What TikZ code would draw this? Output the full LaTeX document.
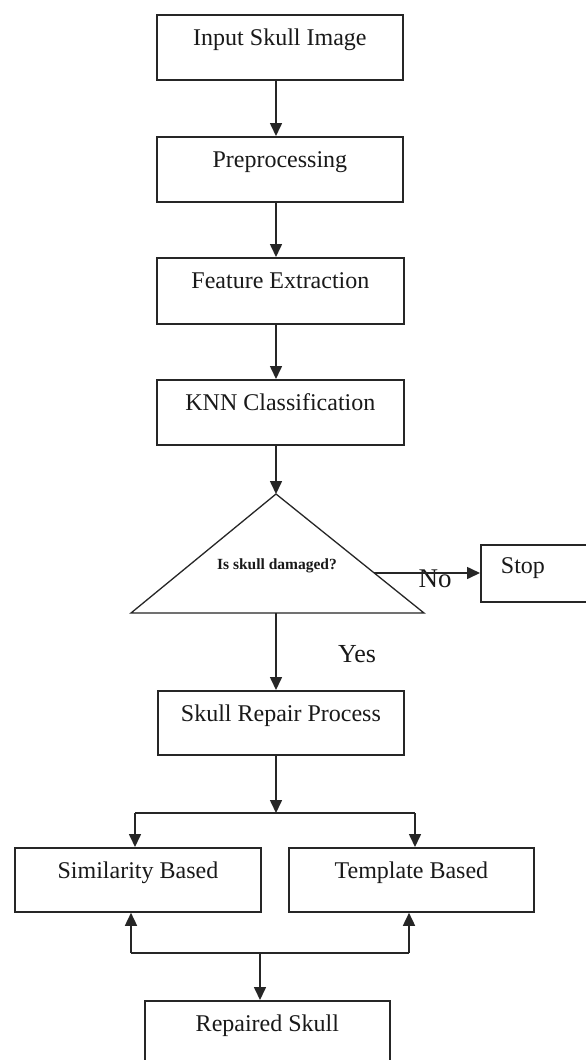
\documentclass[tikz,border=0pt]{standalone}
\usepackage{fontspec}
\setmainfont{Liberation Serif}
\usetikzlibrary{arrows.meta}

\tikzset{
  stepbox/.style={draw=black!85, line width=1.8pt, inner sep=0pt, anchor=north west,
    text height=31pt, text depth=#1, font=\fontsize{24}{28}\selectfont, text=black!90},
  stepbox/.default=34pt,
  arr/.style={draw=black!85, line width=1.6pt, -{Triangle[length=13pt,width=12pt]}},
  link/.style={draw=black!85, line width=1.6pt},
  lbl/.style={inner sep=0pt, font=\fontsize{26}{30}\selectfont, text=black!90},
}

\begin{document}
\begin{tikzpicture}[x=1pt, y=-1pt]
  \useasboundingbox (0,0) rectangle (586,1060);
  \fill[white] (0,0) rectangle (586,1060);

  % main column
  \coordinate (spine) at (276,0);
  \node[stepbox, minimum width=246pt] (in) at (156,14) {Input Skull Image};
  \node[stepbox, minimum width=246pt] (pre) at (156,136) {Preprocessing};
  \node[stepbox=35pt, minimum width=247pt] (feat) at (156,257) {Feature Extraction};
  \node[stepbox, minimum width=247pt] (knn) at (156,379) {KNN Classification};

  % decision triangle
  \coordinate (apex) at (276,494);
  \coordinate (bl) at (131,613);
  \coordinate (br) at (424,613);
  \coordinate (base) at (276,613);
  \coordinate (noS) at (374,573);
  \draw[link, line width=1.3pt, line join=miter] (apex) -- (br) -- (bl) -- cycle;
  \node[inner sep=0pt, font=\bfseries\fontsize{15.5}{18}\selectfont, text=black!90] (q) at (277,566) {Is skull damaged?};

  \node[stepbox=28pt, text height=29pt, minimum width=130pt, text width=90pt,
        inner xsep=20pt, align=left] (stop) at (480,544) {Stop};
  \node[lbl, font=\fontsize{27}{30}\selectfont] (no) at (435,579) {No};
  \node[lbl] (yes) at (357,654) {Yes};

  \node[stepbox=33pt, minimum width=246pt] (rep) at (157,690) {Skull Repair Process};
  \node[stepbox=33pt, minimum width=246pt] (sim) at (14,847) {Similarity Based};
  \node[stepbox=33pt, minimum width=245pt] (tmp) at (288,847) {Template Based};
  \node[stepbox=40pt, minimum width=245pt] (rpd) at (144,1000) {Repaired Skull};

  % connectors
  \draw[arr] (in.south -| spine) -- (pre.north -| spine);
  \draw[arr] (pre.south -| spine) -- (feat.north -| spine);
  \draw[arr] (feat.south -| spine) -- (knn.north -| spine);
  \draw[arr] (knn.south -| spine) -- (apex);
  \draw[arr] (noS) -- (noS -| stop.west);
  \draw[arr] (base) -- (rep.north -| spine);

  % split into the two repair methods
  \coordinate (split) at (276,813);
  \coordinate (splitL) at (135,813);
  \coordinate (splitR) at (415,813);
  \draw[arr] (rep.south -| split) -- (split);
  \draw[link] (splitL) -- (splitR);
  \draw[arr] (splitL) -- (sim.north -| splitL);
  \draw[arr] (splitR) -- (tmp.north -| splitR);

  % merge into the repaired skull
  \coordinate (mergeL) at (131,953);
  \coordinate (mergeR) at (409,953);
  \coordinate (merge) at (260,953);
  \draw[link] (mergeL) -- (mergeR);
  \draw[arr] (mergeL) -- (sim.south -| mergeL);
  \draw[arr] (mergeR) -- (tmp.south -| mergeR);
  \draw[arr] (merge) -- (rpd.north -| merge);
\end{tikzpicture}
\end{document}
